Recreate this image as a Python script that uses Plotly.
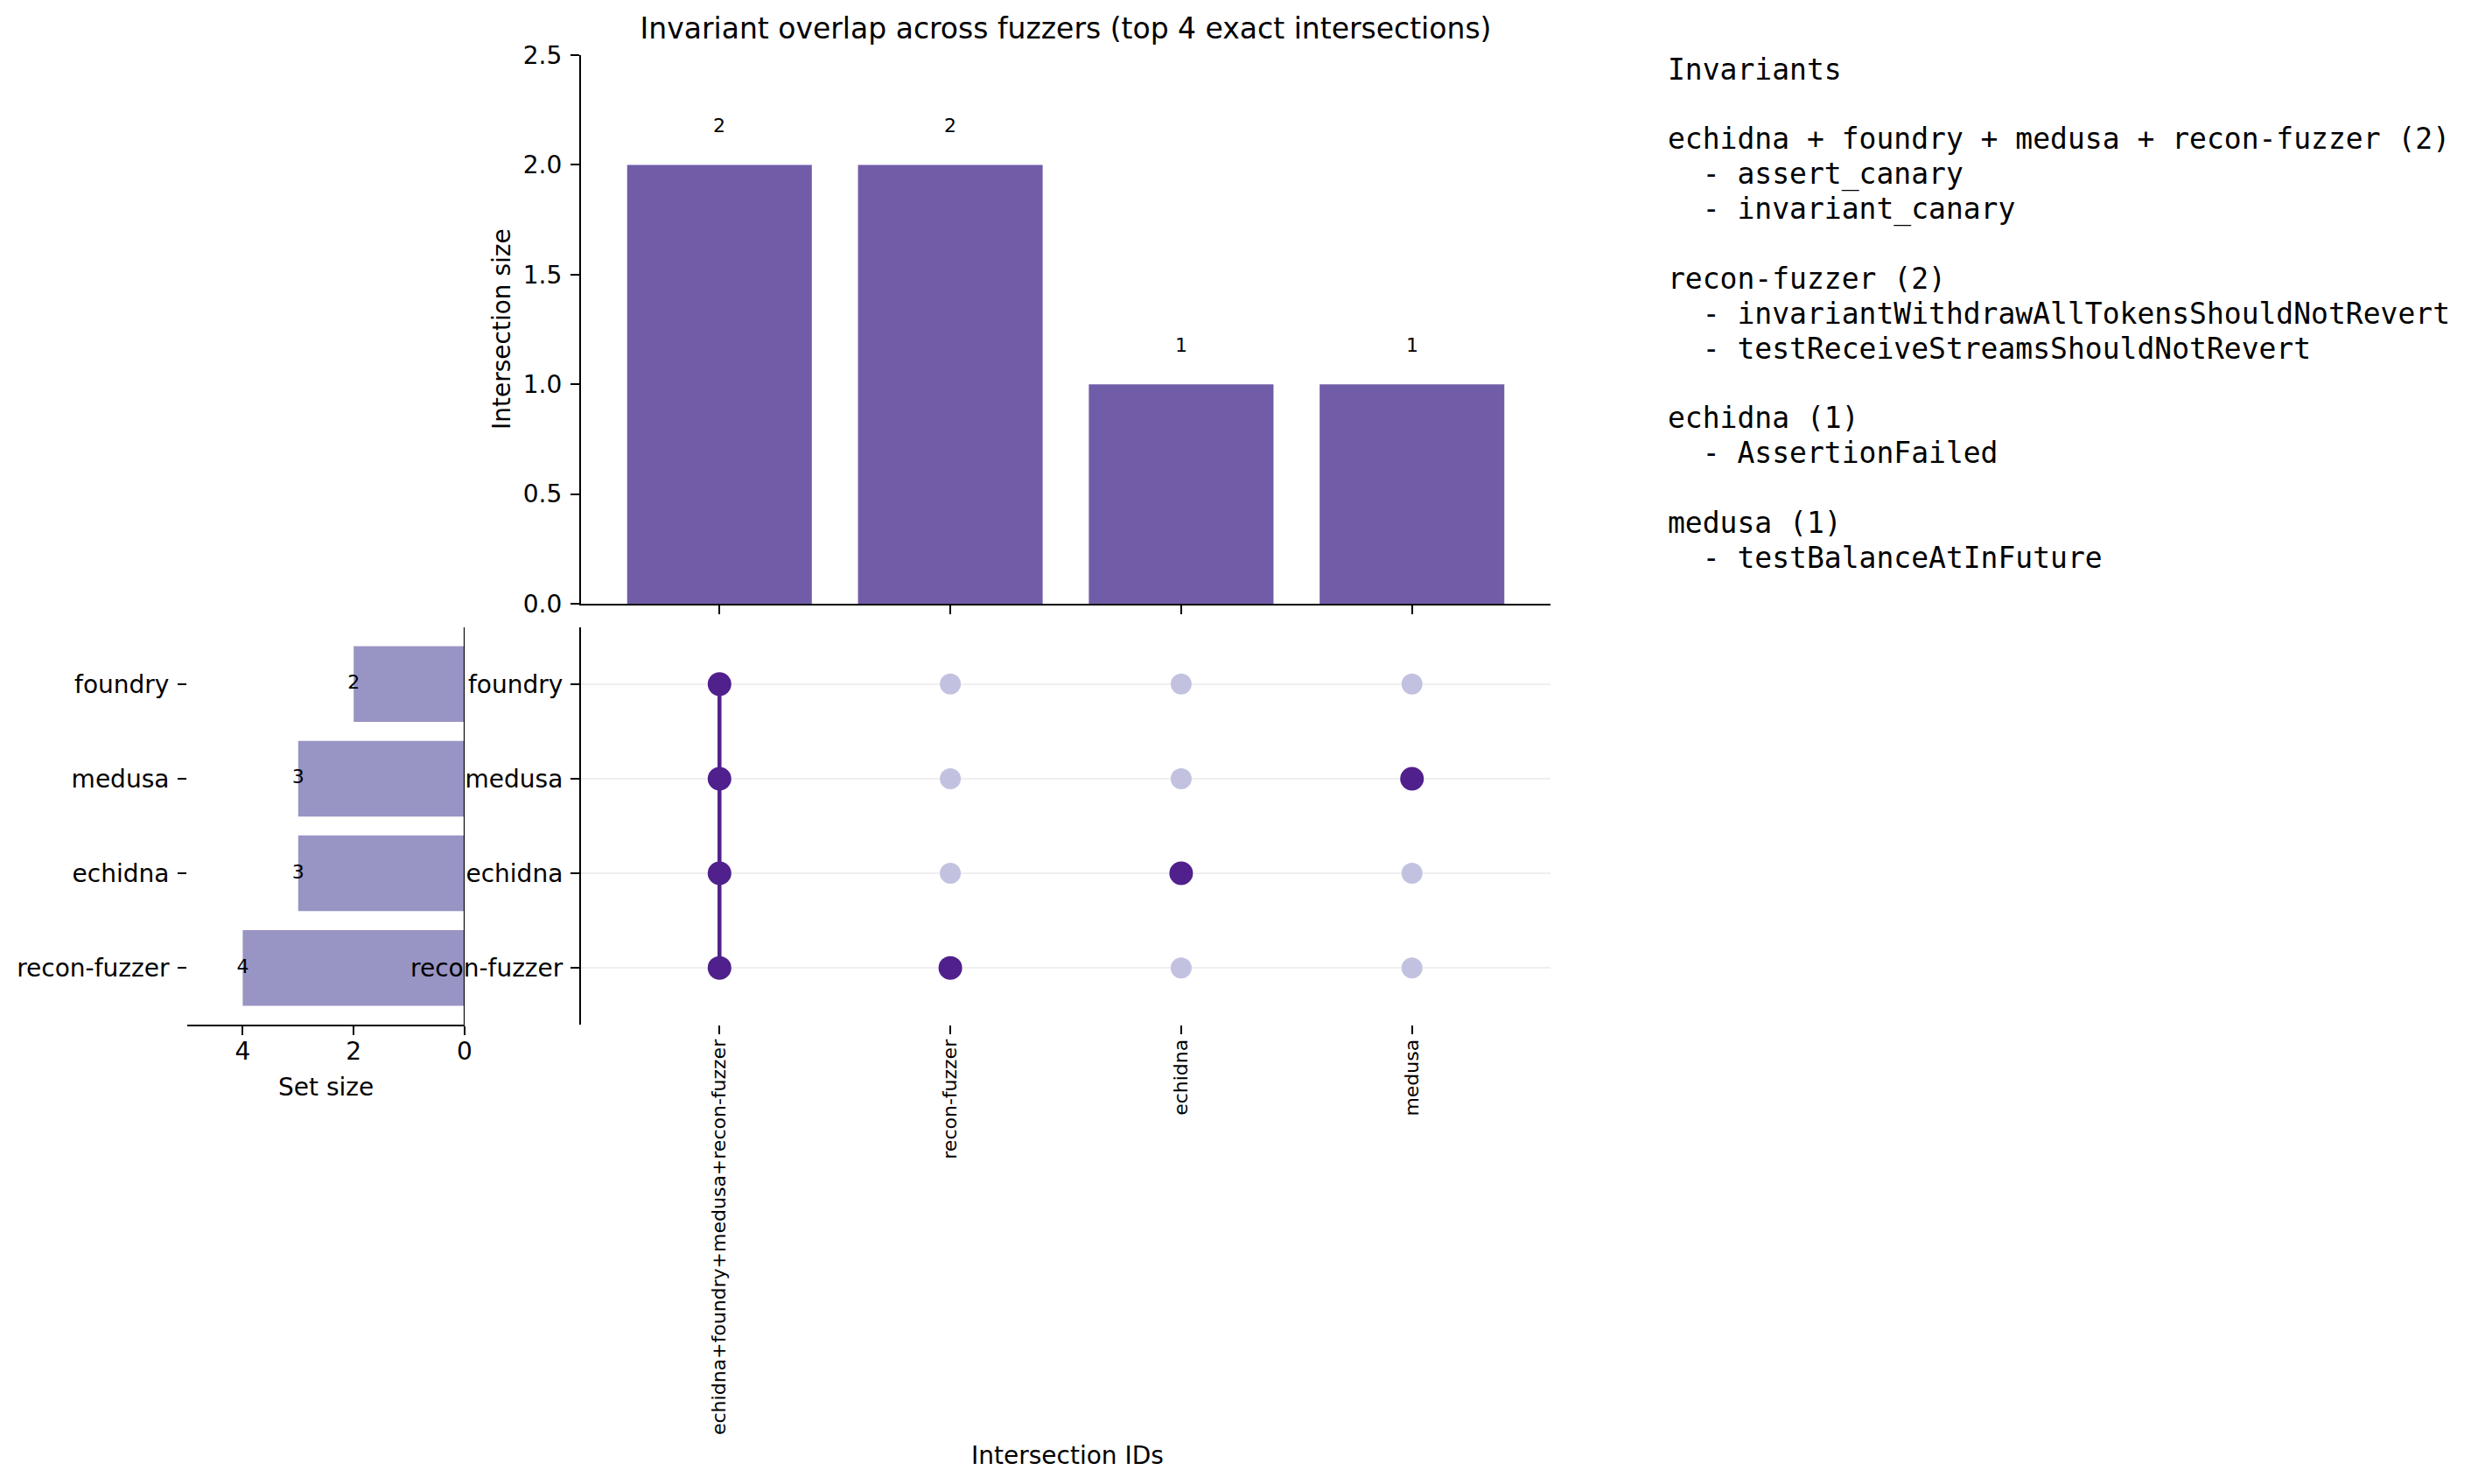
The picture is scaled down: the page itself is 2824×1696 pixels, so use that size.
import plotly.graph_objects as go

# ---------------- data ----------------
sets = ["recon-fuzzer", "echidna", "medusa", "foundry"]          # bottom -> top
set_sizes = [4, 3, 3, 2]
intersections = ["echidna+foundry+medusa+recon-fuzzer", "recon-fuzzer", "echidna", "medusa"]
intersection_sizes = [2, 2, 1, 1]
size_ticks = [0.0, 0.5, 1.0, 1.5, 2.0, 2.5]
set_size_ticks = [0, 2, 4]

group_titles = ["echidna + foundry + medusa + recon-fuzzer", "recon-fuzzer", "echidna", "medusa"]
group_counts = [2, 2, 1, 1]
group_items = [
    ["assert_canary", "invariant_canary"],
    ["invariantWithdrawAllTokensShouldNotRevert", "testReceiveStreamsShouldNotRevert"],
    ["AssertionFailed"],
    ["testBalanceAtInFuture"],
]

# ---------------- styles ----------------
W, H = 2824, 1696
FONT = "DejaVu Sans"
MONO = "DejaVu Sans Mono"
TOP_BAR = "#715ca8"
SET_BAR = "#9894c4"
DOT_ON = "#50208c"
DOT_OFF = "#c2c2e0"
LW = 2.2


def fx(p):
    return p / W


def fy(p):
    return 1 - p / H


fig = go.Figure()

# Set size bars (subplot x/y, drawn first so matrix labels sit on top)
yi = list(range(len(sets)))
fig.add_trace(go.Bar(x=set_sizes, y=yi, orientation="h", width=0.8, marker=dict(color=SET_BAR, line=dict(width=0)),
                     xaxis="x", yaxis="y", showlegend=False, hoverinfo="skip"))
fig.add_trace(go.Scatter(x=set_sizes, y=yi, mode="text", text=[str(v) for v in set_sizes],
                         textposition="middle center", textfont=dict(family=FONT, size=22, color="black"),
                         xaxis="x", yaxis="y", showlegend=False, hoverinfo="skip"))

# Intersection size bars (x2/y2)
xi = list(range(len(intersections)))
fig.add_trace(go.Bar(x=xi, y=intersection_sizes, width=0.8, marker=dict(color=TOP_BAR, line=dict(width=0)),
                     xaxis="x2", yaxis="y2", showlegend=False, hoverinfo="skip"))

# Matrix (x3/y3)
on_x, on_y, off_x, off_y = [], [], [], []
for i, name in enumerate(intersections):
    members = name.split("+")
    idx = [sets.index(m) for m in members]
    if len(idx) > 1:
        fig.add_trace(go.Scatter(x=[i, i], y=[min(idx), max(idx)], mode="lines",
                                 line=dict(color=DOT_ON, width=4.5), xaxis="x3", yaxis="y3",
                                 showlegend=False, hoverinfo="skip"))
    for j, s in enumerate(sets):
        if j in idx:
            on_x.append(i); on_y.append(j)
        else:
            off_x.append(i); off_y.append(j)
fig.add_trace(go.Scatter(x=off_x, y=off_y, mode="markers", marker=dict(size=24, color=DOT_OFF),
                         xaxis="x3", yaxis="y3", showlegend=False, hoverinfo="skip"))
fig.add_trace(go.Scatter(x=on_x, y=on_y, mode="markers", marker=dict(size=27, color=DOT_ON),
                         xaxis="x3", yaxis="y3", showlegend=False, hoverinfo="skip"))

annotations = []
# bar value labels
for i, v in enumerate(intersection_sizes):
    annotations.append(dict(x=i, y=v, xref="x2", yref="y2", text=str(v), showarrow=False,
                            xanchor="center", yanchor="bottom", yshift=30,
                            font=dict(family=FONT, size=22, color="black")))

# axis titles
title_font = dict(family=FONT, size=28, color="black")
annotations.append(dict(x=fx(573), y=fy(376), xref="paper", yref="paper", text="Intersection size",
                        textangle=-90, showarrow=False, xanchor="center", yanchor="middle", font=title_font))
annotations.append(dict(x=fx(373), y=fy(1242), xref="paper", yref="paper", text="Set size",
                        showarrow=False, xanchor="center", yanchor="middle", font=title_font))
annotations.append(dict(x=fx(1220), y=fy(1663), xref="paper", yref="paper", text="Intersection IDs",
                        showarrow=False, xanchor="center", yanchor="middle", font=title_font))

# side text
lines = ["Invariants", ""]
for t, c, items in zip(group_titles, group_counts, group_items):
    lines.append(f"{t} ({c})")
    for it in items:
        lines.append("\u00a0\u00a0- " + it)
    lines.append("")
for k, ln in enumerate(lines):
    if not ln:
        continue
    annotations.append(dict(x=fx(1904), y=fy(79.2 + 39.87 * k), xref="paper", yref="paper", text=ln,
                            xanchor="left", yanchor="middle", showarrow=False,
                            font=dict(family=MONO, size=33, color="black")))

axis_common = dict(linecolor="black", linewidth=LW, tickcolor="black", tickwidth=LW, ticklen=10,
                   ticks="outside", showgrid=False, zeroline=False, automargin=False,
                   ticklabelstandoff=4,
                   tickfont=dict(family=FONT, size=28, color="black"))

fig.update_layout(
    width=W, height=H,
    margin=dict(l=0, r=0, t=0, b=0, autoexpand=False),
    paper_bgcolor="white", plot_bgcolor="rgba(0,0,0,0)",
    font=dict(family=FONT, color="black"),
    title=dict(text="Invariant overlap across fuzzers (top 4 exact intersections)",
               x=fx(1218), xanchor="center", y=fy(32), yanchor="middle", automargin=False,
               font=dict(family=FONT, size=33, color="black")),
    # set size panel
    xaxis=dict(domain=[fx(214), fx(531)], anchor="y", range=[5, 0], showline=True,
               tickvals=set_size_ticks, **{**axis_common, "ticklabelstandoff": -6}),
    yaxis=dict(domain=[fy(1171), fy(717)], anchor="x", range=[-0.6, 3.6], showline=False,
               tickvals=yi, ticktext=sets, **axis_common),
    # intersection size panel
    xaxis2=dict(domain=[fx(664), fx(1772)], anchor="y2", range=[-0.6, 3.6], showline=True,
                tickvals=xi, showticklabels=False, **axis_common),
    yaxis2=dict(domain=[fy(690), fy(63)], anchor="x2", range=[0, 2.5], showline=True,
                tickvals=size_ticks, ticktext=[f"{v:.1f}" for v in size_ticks], **axis_common),
    # matrix panel
    xaxis3=dict(domain=[fx(664), fx(1772)], anchor="y3", range=[-0.6, 3.6], showline=False,
                tickvals=xi, ticktext=intersections, tickangle=-90,
                **{**axis_common, "ticklabelstandoff": -3,
                   "tickfont": dict(family=FONT, size=22, color="black")}),
    yaxis3=dict(domain=[fy(1171), fy(717)], anchor="x3", range=[-0.6, 3.6], showline=True,
                tickvals=yi, ticktext=sets,
                **{**axis_common, "showgrid": True, "gridcolor": "#efefef", "gridwidth": 2,
                   "ticklabelstandoff": 3}),
    shapes=[dict(type="line", xref="x", yref="y domain", x0=0, x1=0, y0=0, y1=1,
                 line=dict(color="black", width=LW))],
    annotations=annotations,
)

fig.write_html("out.html")
